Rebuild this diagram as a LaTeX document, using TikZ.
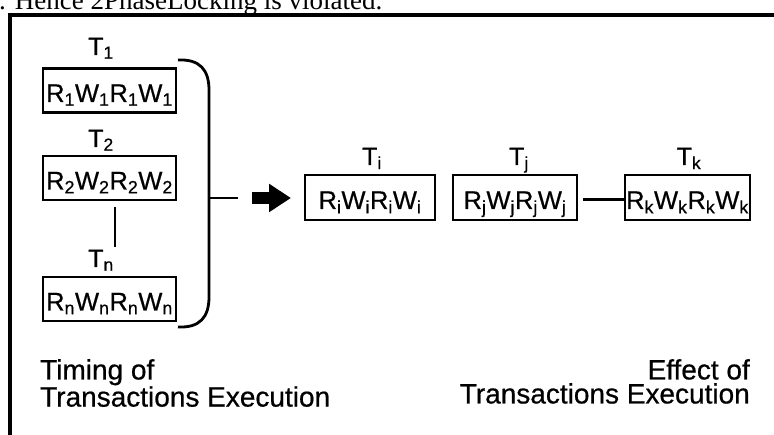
\documentclass[tikz,border=0pt]{standalone}
\usepackage{fontspec}
\setmainfont{Liberation Sans}[FakeBold=0.6]
\newfontfamily\runfont{Liberation Serif}
\usetikzlibrary{arrows.meta,positioning,calc}
\newcommand\ix[1]{\textsubscript{#1}}

\begin{document}
\begin{tikzpicture}[x=1pt,y=1pt,
        every node/.style={inner sep=0pt},
        txn/.style={draw,line width=2.8pt,minimum height=44pt,text height=24pt,text depth=1pt,
            font=\fontsize{25.5}{28}\selectfont},
        lbl/.style={anchor=base,font=\fontsize{25}{28}\selectfont},
        note/.style={align=#1,font=\fontsize{28}{24}\selectfont},
        link/.style={line width=2.4pt}]
    \useasboundingbox (0,0) rectangle (774,435);
    \clip (0,0) rectangle (774,435);
    % running text above and the frame round the figure
    \node[anchor=base west,font=\runfont\fontsize{27}{30}\selectfont] (run) at (-1,425) {. Hence 2PhaseLocking is violated.};
    \draw[line width=3.5pt] (10,-5) -- (10,420) -- (790,420);
    % transactions as they are timed
    \node[txn,minimum width=133pt] (b1) at (109.5,344.5) {R\ix1W\ix1R\ix1W\ix1};
    \node[txn,minimum width=133pt] (b2) at (109.5,257) {R\ix2W\ix2R\ix2W\ix2};
    \node[txn,minimum width=133pt] (bn) at (109.5,136) {R\ix{n}W\ix{n}R\ix{n}W\ix{n}};
    \node[lbl] (t1) at (101,380) {T\ix1};
    \node[lbl] (t2) at (101,288) {T\ix2};
    \node[lbl] (tn) at (101,168) {T\ix{n}};
    \coordinate (gaptop) at (115,228);
    \coordinate (gapbot) at (115,188);
    \draw[link] (gaptop) -- (gapbot);
    % bracket and arrow
    \coordinate (brtop) at (178,375);
    \coordinate (brbot) at (178,108);
    \coordinate (brmid) at (209,237);
    \coordinate (tickend) at (238,237);
    \draw[line width=2.8pt] (brtop) .. controls (200,376) and (209,365) .. (209,345) -- (209,138)
        .. controls (209,118) and (200,107) .. (brbot);
    \draw[link] (brmid) -- (tickend);
    \coordinate (arrtail) at (252,237);
    \coordinate (arrtip) at (291,237);
    \draw[line width=12pt,-{Triangle[length=22pt,width=27pt]}] (arrtail) -- (arrtip);
    % effect on the transactions
    \node[txn,minimum width=130pt,minimum height=45pt] (bi) at (370,237.5) {R\ix{i}W\ix{i}R\ix{i}W\ix{i}};
    \node[txn,minimum width=124pt,minimum height=45pt] (bj) at (515,237.5) {R\ix{j}W\ix{j}R\ix{j}W\ix{j}};
    \node[txn,minimum width=125pt,minimum height=45pt] (bk) at (687.5,237.5) {R\ix{k}W\ix{k}R\ix{k}W\ix{k}};
    \node[lbl] (ti) at (372,270) {T\ix{i}};
    \node[lbl] (tj) at (519,270) {T\ix{j}};
    \node[lbl] (tk) at (689,270) {T\ix{k}};
    \draw[link] ([xshift=5pt,yshift=-2pt]bj.east) -- ([yshift=-2pt]bk.west);
    % captions
    \node[note=left,anchor=north west] (cap1) at (40,76) {Timing of\\Transactions Execution};
    \node[note=right,anchor=north east] (cap2) at (750,76) {Effect of\\Transactions Execution};
\end{tikzpicture}
\end{document}
